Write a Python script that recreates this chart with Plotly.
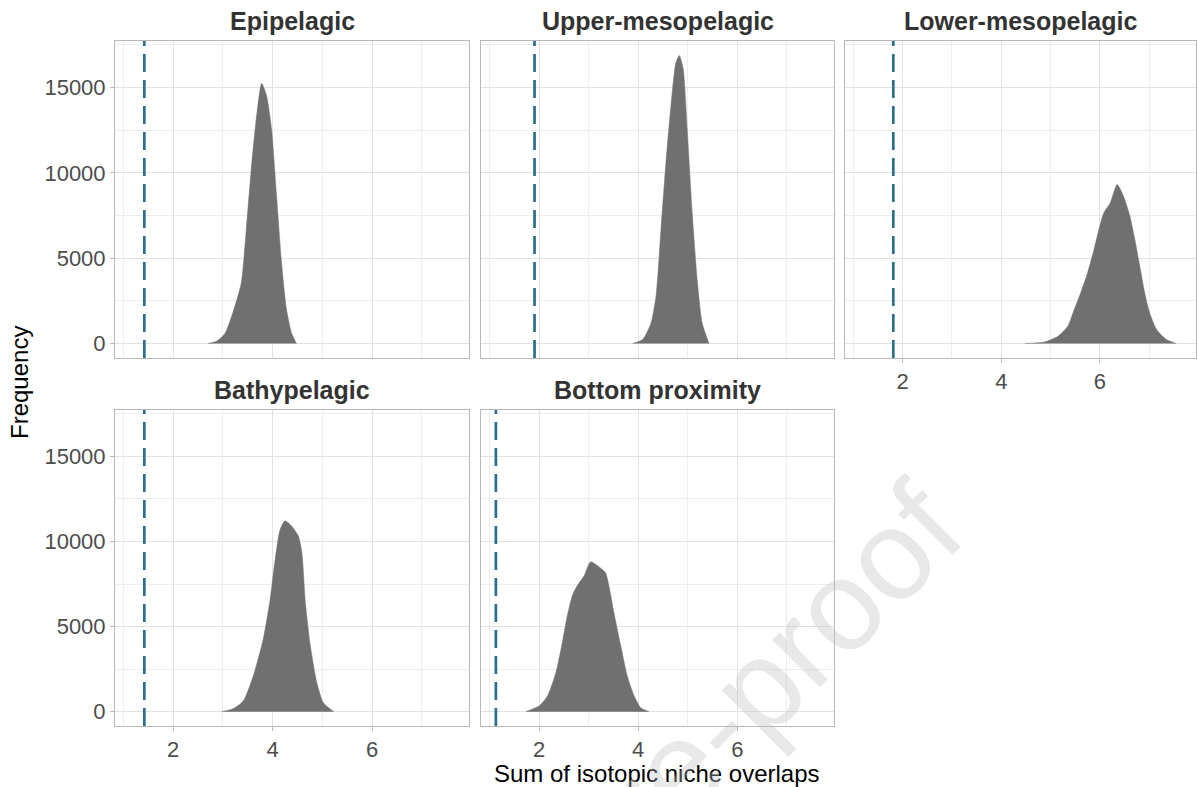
import plotly.graph_objects as go

# Density curves of the summed isotopic niche overlaps per depth zone
epi_x = [2.70, 2.87, 3.04, 3.21, 3.37, 3.47, 3.57, 3.67, 3.78, 3.88, 3.98, 4.08, 4.18, 4.28, 4.38, 4.48]
epi_y = [0, 135, 590, 1900, 3560, 6680, 10200, 13130, 15250, 14500, 12540, 8630, 4730, 1990, 625, 0]

upper_x = [3.89, 4.09, 4.26, 4.36, 4.46, 4.56, 4.66, 4.76, 4.83, 4.91, 4.99, 5.09, 5.19, 5.29, 5.43]
upper_y = [0, 234, 1210, 2770, 6680, 10600, 13900, 16450, 16880, 16060, 12540, 7660, 3750, 1210, 0]

lower_x = [4.48, 4.88, 5.15, 5.35, 5.48, 5.61, 5.75, 5.88, 5.98, 6.08, 6.21, 6.35, 6.48,
           6.61, 6.71, 6.81, 6.91, 7.01, 7.15, 7.35, 7.55]
lower_y = [0, 100, 430, 1015, 2000, 2970, 4140, 5500, 6680, 7660, 8240, 9320, 8630,
           7460, 6090, 4530, 2970, 1800, 820, 234, 0]

bathy_x = [2.98, 3.21, 3.41, 3.61, 3.81, 3.95, 4.05, 4.15, 4.25, 4.39, 4.52, 4.59, 4.66,
           4.76, 4.89, 5.02, 5.23]
bathy_y = [0, 176, 625, 2090, 4240, 6580, 8930, 10690, 11210, 10880, 10300, 9320, 6390,
           3850, 1700, 527, 0]

bottom_x = [1.73, 2.00, 2.17, 2.34, 2.47, 2.57, 2.67, 2.77, 2.91, 3.04, 3.18, 3.34, 3.41,
            3.51, 3.65, 3.78, 3.92, 4.05, 4.22]
bottom_y = [0, 333, 920, 2290, 4060, 5630, 6800, 7390, 7980, 8800, 8570, 8170, 7390,
            5820, 3860, 2100, 920, 235, 0]

# Observed sums (dashed reference lines)
zones = ["Epipelagic", "Upper-mesopelagic", "Lower-mesopelagic", "Bathypelagic", "Bottom proximity"]
observed = [1.42, 1.91, 1.81, 1.42, 1.13]
curves_x = [epi_x, upper_x, lower_x, bathy_x, bottom_x]
curves_y = [epi_y, upper_y, lower_y, bathy_y, bottom_y]

x_ticks = [2, 4, 6]
x_ticklabels = ["2", "4", "6"]
y_ticks = [0, 5000, 10000, 15000]
y_ticklabels = ["0", "5000", "10000", "15000"]

W, H = 1197, 787
col_px = [(115, 469), (481, 834), (845, 1196)]
row_px = [(41, 358), (410, 726)]
cells = [(0, 0), (0, 1), (0, 2), (1, 0), (1, 1)]
show_x = [False, False, True, True, True]
show_y = [True, False, False, True, False]

ymax = max(max(c) for c in curves_y)
y_range = [-0.05 * ymax, 1.05 * ymax]
x_range = [0.83, 7.95]

FILL = "rgb(112,112,112)"
LINE_COL = "#2b6f8c"
GRID = "#e2e2e2"
GRID_MINOR = "#eeeeee"
BORDER = "#b8b8b8"
FONT = "Liberation Sans, Arial, sans-serif"

fig = go.Figure()
layout = {}
shapes = []
annotations = []

for i, (name, xs, ys, obs, (r, c)) in enumerate(zip(zones, curves_x, curves_y, observed, cells)):
    k = "" if i == 0 else str(i + 1)
    fig.add_trace(go.Scatter(
        x=xs, y=ys, mode="lines", line=dict(color=FILL, width=0.5, shape="spline", smoothing=0.6),
        fill="tozeroy", fillcolor=FILL, xaxis="x" + k, yaxis="y" + k,
        showlegend=False, hoverinfo="skip"))

    x0, x1 = col_px[c]
    y0, y1 = row_px[r]
    layout["xaxis" + k] = dict(
        domain=[x0 / W, x1 / W], anchor="y" + k, range=x_range,
        tickmode="array", tickvals=x_ticks, ticktext=x_ticklabels, showticklabels=show_x[i],
        ticks="outside" if show_x[i] else "", ticklen=4, tickcolor=BORDER, tickwidth=1,
        showgrid=True, gridcolor=GRID, gridwidth=1,
        minor=dict(tickvals=[1, 3, 5, 7], showgrid=True, gridcolor=GRID_MINOR, gridwidth=1, ticks=""),
        showline=True, mirror=True, linecolor=BORDER, linewidth=1, zeroline=False,
        tickfont=dict(family=FONT, size=22, color="#4d4d4d"))
    layout["yaxis" + k] = dict(
        domain=[1 - y1 / H, 1 - y0 / H], anchor="x" + k, range=y_range,
        tickmode="array", tickvals=y_ticks, ticktext=y_ticklabels, showticklabels=show_y[i],
        ticks="outside" if show_y[i] else "", ticklen=4, tickcolor=BORDER, tickwidth=1,
        showgrid=True, gridcolor=GRID, gridwidth=1,
        minor=dict(tickvals=[2500, 7500, 12500, 17500], showgrid=True, gridcolor=GRID_MINOR,
                   gridwidth=1, ticks=""),
        showline=True, mirror=True, linecolor=BORDER, linewidth=1, zeroline=False,
        tickfont=dict(family=FONT, size=22, color="#4d4d4d"))

    shapes.append(dict(type="line", xref="x" + k, yref="y" + k + " domain",
                       x0=obs, x1=obs, y0=0, y1=1, layer="above",
                       line=dict(color=LINE_COL, width=2.7, dash="18px,8px")))

    annotations.append(dict(text="<b>" + name + "</b>", xref="paper", yref="paper",
                            x=(x0 + x1) / 2 / W, y=1 - (y0 - 20) / H,
                            xanchor="center", yanchor="middle", showarrow=False,
                            font=dict(family=FONT, size=25, color="#333333")))

annotations.append(dict(text="Sum of isotopic niche overlaps", xref="paper", yref="paper",
                        x=657 / W, y=1 - 773 / H, xanchor="center", yanchor="middle",
                        showarrow=False, font=dict(family=FONT, size=24, color="#000000")))
annotations.append(dict(text="Frequency", xref="paper", yref="paper", textangle=-90,
                        x=20 / W, y=1 - 383 / H, xanchor="center", yanchor="middle",
                        showarrow=False, font=dict(family=FONT, size=24, color="#000000")))
annotations.append(dict(text="Journal Pre-proof", xref="paper", yref="paper", textangle=-45,
                        x=588 / W, y=1 - 856 / H, xanchor="center", yanchor="middle",
                        showarrow=False,
                        font=dict(family=FONT, size=128, color="rgba(190,190,190,0.35)")))

fig.update_layout(
    width=W, height=H, margin=dict(l=0, r=0, t=0, b=0),
    paper_bgcolor="white", plot_bgcolor="white",
    shapes=shapes, annotations=annotations, **layout)

fig.write_html("out.html")
